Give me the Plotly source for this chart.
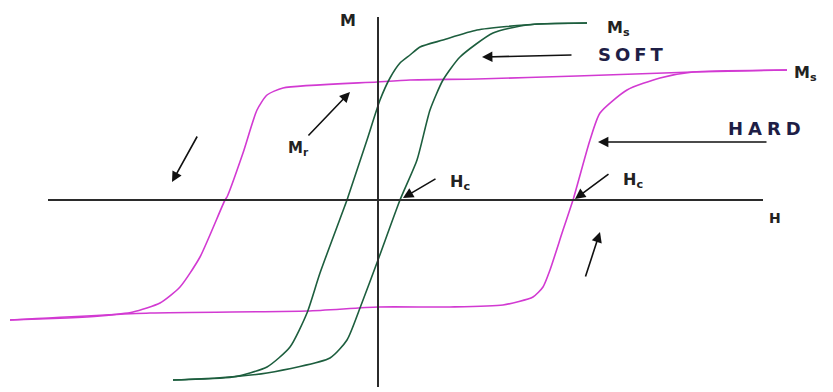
import plotly.graph_objects as go

# hysteresis loops (arbitrary units, H right, M up)
hard_up_h = [40.9, 31.5, 19.9, 9.9, 3.2, -0.1, -9.5, -11.1, -12.1, -13.5, -15.1, -15.3, -17.8, -19.8, -21.8, -24.5, -27.8, -31.1, -36.8]
hard_up_m = [13.0, 12.8, 12.4, 12.1, 12.0, 11.8, 11.2, 10.5, 9.0, 4.7, 0.3, 0.0, -5.7, -8.7, -10.3, -11.2, -11.6, -11.8, -12.0]
hard_dn_h = [-36.8, -22.8, -7.1, 0.0, 7.2, 12.5, 15.5, 16.5, 17.2, 18.5, 19.5, 21.2, 22.2, 24.9, 28.2, 31.5, 40.9]
hard_dn_m = [-12.0, -11.3, -11.1, -10.7, -10.7, -10.5, -9.7, -8.7, -7.0, -3.0, 0.0, 6.0, 8.7, 11.0, 12.2, 12.8, 13.0]

soft_up_h = [20.9, 15.9, 9.9, 6.5, 4.2, 3.2, 2.2, 1.2, 0.2, -1.1, -3.0, -3.1, -5.8, -7.1, -8.8, -11.1, -14.5, -20.5]
soft_up_m = [17.7, 17.6, 17.0, 16.0, 15.3, 14.5, 13.7, 12.2, 10.0, 6.0, 0.3, 0.0, -7.3, -11.3, -14.7, -16.7, -17.7, -18.0]
soft_dn_h = [-20.5, -16.1, -11.1, -4.8, -3.1, -1.8, 0.0, 2.2, 3.9, 5.2, 6.5, 8.2, 11.5, 14.9, 20.9]
soft_dn_m = [-18.0, -17.8, -17.3, -15.8, -14.0, -10.8, -6.0, 0.0, 4.0, 9.0, 12.0, 14.3, 16.7, 17.5, 17.7]

MAGENTA = "#d23ad2"
GREEN = "#1d5e3e"
INK = "#1e1e46"

fig = go.Figure()
for hx, my in [(hard_up_h, hard_up_m), (hard_dn_h, hard_dn_m)]:
    fig.add_trace(go.Scatter(x=hx, y=my, mode="lines", line=dict(color=MAGENTA, width=1.6, shape="spline", smoothing=0.6),
                             hoverinfo="skip", showlegend=False))
for hx, my in [(soft_up_h, soft_up_m), (soft_dn_h, soft_dn_m)]:
    fig.add_trace(go.Scatter(x=hx, y=my, mode="lines", line=dict(color=GREEN, width=1.6, shape="spline", smoothing=0.6),
                             hoverinfo="skip", showlegend=False))

# H and M axes drawn as lines through the origin
fig.add_shape(type="line", x0=-33.0, x1=38.5, y0=0, y1=0, line=dict(color="#2b2b2b", width=2))
fig.add_shape(type="line", x0=0, x1=0, y0=-18.7, y1=18.3, line=dict(color="#2b2b2b", width=2))

def label(x, y, text, size=14, color="#222", **kw):
    fig.add_annotation(x=x, y=y, text=text, showarrow=False, font=dict(family="DejaVu Sans", size=size, color=color), **kw)

def arrow(x0, y0, x1, y1):
    fig.add_annotation(x=x1, y=y1, ax=x0, ay=y0, axref="x", ayref="y", xref="x", yref="y", text="",
                       showarrow=True, arrowhead=2, arrowsize=1.3, arrowwidth=1.6, arrowcolor="#111")

label(-3.0, 18.0, "<b>M</b>", size=16)
label(39.7, -1.8, "<b>H</b>", size=14)
label(24.0, 17.2, "<b>M<sub>s</sub></b>", size=16)
label(41.4, 12.7, "<b>M<sub>s</sub></b>", size=16, xanchor="left")
label(25.4, 14.6, '<b><span style="letter-spacing:4px">SOFT</span></b>', size=18, color=INK)
label(38.9, 7.2, '<b><span style="letter-spacing:5px">HARD</span></b>', size=18, color=INK)
label(-8.0, 5.2, "<b>M<sub>r</sub></b>", size=15)
label(8.2, 1.8, "<b>H<sub>c</sub></b>", size=16)
label(25.5, 2.0, "<b>H<sub>c</sub></b>", size=16)

arrow(19.5, 14.5, 10.4, 14.3)
arrow(39.0, 5.8, 22.0, 5.8)
arrow(5.9, 2.2, 2.5, 0.2)
arrow(23.2, 2.7, 19.7, 0.1)
arrow(-7.1, 6.3, -2.8, 10.8)
arrow(-18.0, 6.5, -20.6, 1.8)
arrow(20.7, -7.8, 22.2, -3.2)

fig.update_xaxes(visible=False, range=[-37.8, 45.5])
fig.update_yaxes(visible=False, range=[-19.2, 20.0])
fig.update_layout(width=833, height=392, margin=dict(l=0, r=0, t=0, b=0),
                  plot_bgcolor="white", paper_bgcolor="white")
fig.write_html("out.html", config={"displayModeBar": False},
               post_script="document.body.style.margin='0';")
